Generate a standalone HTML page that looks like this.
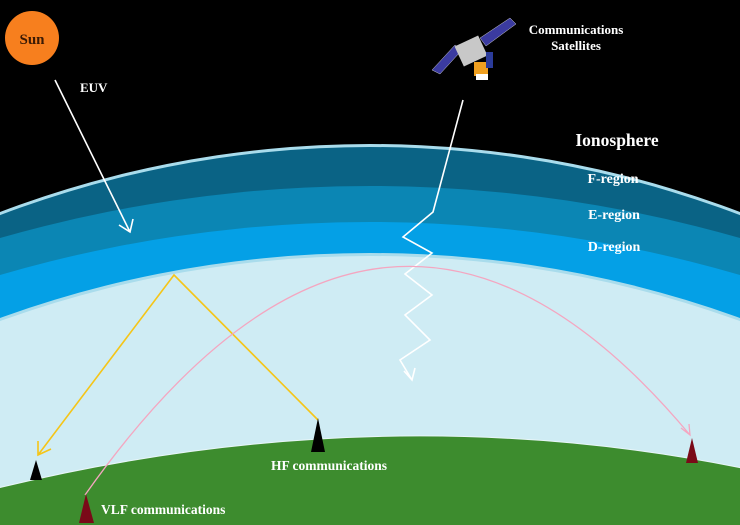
<!DOCTYPE html>
<html><head><meta charset="utf-8"><style>
html,body{margin:0;padding:0;background:#000;overflow:hidden;width:740px;height:525px;}
svg{display:block;}
text{font-family:"Liberation Serif",serif;font-weight:bold;fill:#fff;}
</style></head><body>
<svg width="740" height="525" viewBox="0 0 740 525" xmlns="http://www.w3.org/2000/svg">
<defs>
<clipPath id="c"><rect width="740" height="525"/></clipPath>
</defs>
<rect width="740" height="525" fill="#000"/>
<g clip-path="url(#c)">
<circle cx="370" cy="1185" r="1041" fill="#a9dcec"/>
<circle cx="370" cy="1185" r="1038" fill="#0a6385"/>
<circle cx="370" cy="1528" r="1342" fill="#0b86b4"/>
<circle cx="370" cy="1540" r="1318" fill="#04a0e6"/>
<circle cx="370" cy="1339" r="1086" fill="#a9dcec"/>
<circle cx="370" cy="1339" r="1083" fill="#cfecf4"/>
<path d="M-2 488 Q380 395 742 468 L742 527 L-2 527Z" fill="#3d8c2e" stroke="#e8f6f8" stroke-width="1"/>
</g>
<circle cx="32" cy="38" r="27" fill="#f77f1e"/>
<text x="32" y="44" font-size="15" text-anchor="middle" style="fill:#3a1a05">Sun</text>
<text x="80" y="92" font-size="13">EUV</text>
<text x="576" y="34" font-size="13" text-anchor="middle">Communications</text>
<text x="576" y="50" font-size="13" text-anchor="middle">Satellites</text>
<text x="617" y="146" font-size="17.5" text-anchor="middle">Ionosphere</text>
<text x="613" y="183" font-size="14" text-anchor="middle">F-region</text>
<text x="614" y="219" font-size="14" text-anchor="middle">E-region</text>
<text x="614" y="251" font-size="14" text-anchor="middle">D-region</text>
<text x="329" y="470" font-size="13.5" text-anchor="middle">HF communications</text>
<text x="101" y="514" font-size="13.5">VLF communications</text>
<!-- satellite -->
<g>
<polygon points="432,70 455,45 462,50 440,74" fill="#3b3ba0" stroke="#ccc" stroke-width="0.5"/>
<polygon points="480,38 510,18 516,24 486,46" fill="#3b3ba0" stroke="#ccc" stroke-width="0.5"/>
<rect x="458" y="40" width="26" height="22" fill="#c8c8c8" transform="rotate(-25 471 51)"/>
<rect x="474" y="62" width="14" height="14" fill="#f0a020"/>
<rect x="476" y="74" width="12" height="6" fill="#fff"/>
<rect x="486" y="52" width="7" height="16" fill="#2b3b9a"/>
</g>
<!-- arrows -->
<g fill="none" stroke-width="1.6">
<path d="M55 80 L130 232 M119 225 L130 232 L133 219" stroke="#fff"/>
<path d="M463 100 L433 212 L403 237 L432 253 L405 274 L432 295 L405 315 L430 340 L400 360 L412 380 M404 371 L412 380 L415 368" stroke="#fff"/>
<path d="M318 420 L174 275 L38 455 M38 441 L38 455 L51 449" stroke="#f5c518"/>
<path d="M85 495 Q385 70 690 435 M681 428 L690 435 L689 424" stroke="#f4a6c0" stroke-width="1.3"/>
</g>
<polygon points="36,460 30,480 42,480" fill="#000"/>
<polygon points="318,418 311,452 325,452" fill="#000"/>
<polygon points="86,494 79,523 94,523" fill="#7a0a18"/>
<polygon points="692,438 686,463 698,463" fill="#7a0a18"/>
</svg>
</body></html>
